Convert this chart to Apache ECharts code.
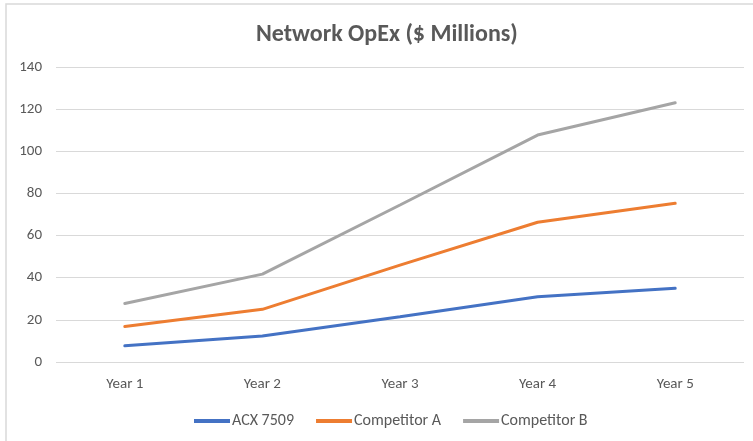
<!DOCTYPE html>
<html>
<head>
<meta charset="utf-8">
<script src="https://cdn.jsdelivr.net/npm/echarts@6/dist/echarts.min.js"></script>
<style>
    html, body { margin: 0; padding: 0; background: #ffffff; }
    #chart { width: 753px; height: 441px; }
</style>
</head>
<body>
<div id="chart"></div>
<script>
    var years = ['Year 1', 'Year 2', 'Year 3', 'Year 4', 'Year 5'];
    var acx7509 = [7.7, 12.3, 21.5, 31, 35];
    var competitorA = [16.8, 25, 46, 66.3, 75.3];
    var competitorB = [27.8, 41.7, 74.5, 107.7, 123];
    var seriesNames = ['ACX 7509', 'Competitor A', 'Competitor B'];

    var font = 'Carlito, "Liberation Sans", sans-serif';
    var textColor = '#595959';

    var myChart = echarts.init(document.getElementById('chart'));
    window.onresize = myChart.resize;

    function lineSeries(name, data, color) {
        return {
            name: name,
            type: 'line',
            data: data,
            symbol: 'none',
            color: color,
            lineStyle: { width: 3, color: color, cap: 'round' }
        };
    }

    myChart.setOption({
        animation: false,
        color: ['#4472C4', '#ED7D31', '#A5A5A5'],
        // frame round the chart area, like the Excel chart border
        graphic: [{
            type: 'rect',
            shape: { x: 6, y: 4, width: 800, height: 500 },
            style: { fill: 'none', stroke: '#d9d9d9', lineWidth: 1.5 },
            silent: true
        }],
        title: {
            text: 'Network OpEx ($ Millions)',
            left: 251,
            top: 18,
            textStyle: { fontFamily: font, fontSize: 24, fontWeight: 'bold', color: textColor }
        },
        grid: { left: 56, right: 9, top: 67, bottom: 79 },
        legend: {
            data: seriesNames,
            bottom: 7,
            left: 189,
            icon: 'rect',
            itemWidth: 36,
            itemHeight: 4,
            itemGap: 22,
            textStyle: { fontFamily: font, fontSize: 16, color: textColor, padding: [0, 0, 0, -3] }
        },
        xAxis: {
            type: 'category',
            data: years,
            boundaryGap: true,
            axisLine: { show: false },
            axisTick: { show: false },
            axisLabel: { fontFamily: font, fontSize: 15, color: textColor, margin: 15 }
        },
        yAxis: {
            type: 'value',
            min: 0,
            max: 140,
            interval: 20,
            axisLine: { show: false },
            axisTick: { show: false },
            axisLabel: { fontFamily: font, fontSize: 15, color: textColor, margin: 14 },
            splitLine: { lineStyle: { color: '#d9d9d9', width: 1 } }
        },
        series: [
            lineSeries(seriesNames[0], acx7509, '#4472C4'),
            lineSeries(seriesNames[1], competitorA, '#ED7D31'),
            lineSeries(seriesNames[2], competitorB, '#A5A5A5')
        ]
    });
</script>
</body>
</html>
